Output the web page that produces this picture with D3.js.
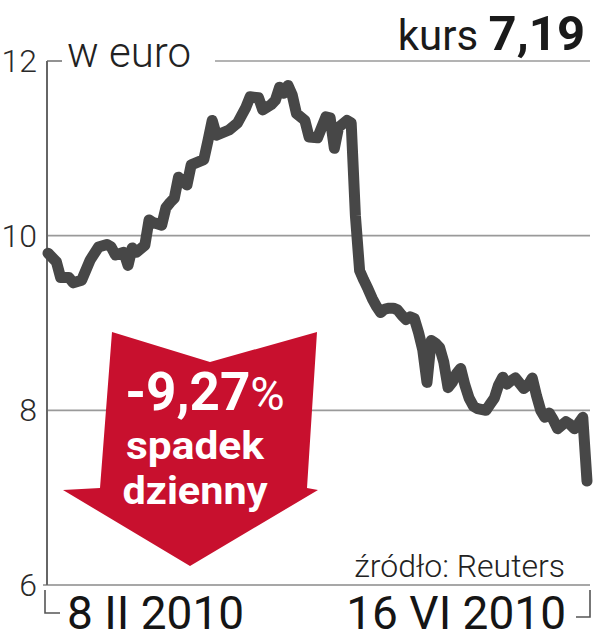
<!DOCTYPE html>
<html><head><meta charset="utf-8">
<script src="https://cdn.jsdelivr.net/npm/d3@7/dist/d3.min.js"></script>
<style>body{margin:0;background:#fff}svg{display:block}</style>
</head><body>
<svg id="c" width="593" height="640"></svg>
<script>
const dates = ["2010-02-08","2010-02-10","2010-02-11","2010-02-13","2010-02-14","2010-02-16","2010-02-18","2010-02-20","2010-02-22","2010-02-23","2010-02-24","2010-02-26","2010-02-27","2010-02-28","2010-03-01","2010-03-03","2010-03-04","2010-03-05","2010-03-07","2010-03-08","2010-03-09","2010-03-10","2010-03-11","2010-03-13","2010-03-14","2010-03-17","2010-03-18","2010-03-19","2010-03-20","2010-03-23","2010-03-25","2010-03-27","2010-03-28","2010-03-30","2010-03-31","2010-04-02","2010-04-03","2010-04-04","2010-04-05","2010-04-06","2010-04-07","2010-04-08","2010-04-10","2010-04-11","2010-04-13","2010-04-15","2010-04-16","2010-04-17","2010-04-18","2010-04-20","2010-04-21","2010-04-22","2010-04-23","2010-04-24","2010-04-25","2010-04-26","2010-04-27","2010-04-28","2010-04-29","2010-04-30","2010-05-01","2010-05-02","2010-05-03","2010-05-04","2010-05-05","2010-05-06","2010-05-07","2010-05-08","2010-05-09","2010-05-10","2010-05-11","2010-05-12","2010-05-13","2010-05-14","2010-05-15","2010-05-16","2010-05-17","2010-05-18","2010-05-19","2010-05-20","2010-05-21","2010-05-23","2010-05-24","2010-05-25","2010-05-26","2010-05-27","2010-05-28","2010-05-29","2010-05-30","2010-05-31","2010-06-01","2010-06-02","2010-06-03","2010-06-04","2010-06-05","2010-06-06","2010-06-07","2010-06-08","2010-06-09","2010-06-10","2010-06-11","2010-06-12","2010-06-13","2010-06-14","2010-06-15","2010-06-16"];
const values = [9.80,9.70,9.52,9.52,9.46,9.49,9.72,9.87,9.90,9.87,9.78,9.81,9.66,9.86,9.81,9.89,10.18,10.15,10.12,10.32,10.38,10.43,10.67,10.58,10.81,10.87,11.09,11.32,11.15,11.21,11.29,11.47,11.59,11.58,11.44,11.50,11.55,11.70,11.63,11.72,11.61,11.40,11.32,11.13,11.12,11.36,11.35,11.00,11.24,11.32,11.29,10.23,9.60,9.49,9.39,9.28,9.19,9.12,9.16,9.17,9.17,9.15,9.09,9.04,9.07,9.05,8.89,8.69,8.32,8.80,8.77,8.72,8.55,8.26,8.32,8.42,8.48,8.29,8.14,8.05,8.02,8.00,8.07,8.14,8.29,8.38,8.30,8.34,8.37,8.31,8.25,8.29,8.37,8.17,8.00,7.92,7.97,7.89,7.79,7.83,7.87,7.84,7.79,7.85,7.92,7.19];
const yTicks = [6, 8, 10, 12];
const xLabels = ["8 II 2010", "16 VI 2010"];
const unitLabel = "w euro";
const priceLabel = "kurs";
const priceValue = "7,19";
const changeValue = "-9,27";
const changeLines = ["spadek", "dzienny"];
const sourceLabel = "źródło: Reuters";

const svg = d3.select("#c");
const parse = d3.timeParse("%Y-%m-%d");
const data = dates.map((d, i) => ({date: parse(d), value: values[i]}));

const x = d3.scaleTime().domain(d3.extent(data, d => d.date)).range([48, 587]);
const y = d3.scaleLinear().domain([6, 12]).range([585, 61]);
const font = "Roboto, 'Liberation Sans', sans-serif";

// gridlines
const grid = svg.append("g");
yTicks.forEach(t => {
  let x1 = 47, x2 = 590;
  if (t === 12) x1 = 215;
  if (t === 6) x1 = 43;
  grid.append("line").attr("x1", x1).attr("x2", x2).attr("y1", y(t)).attr("y2", y(t))
    .attr("stroke", t === 6 ? "#8a8a8a" : "#9a9a9a").attr("stroke-width", 1.6);
});
grid.append("line").attr("x1", 47).attr("x2", 62).attr("y1", y(12)).attr("y2", y(12))
  .attr("stroke", "#777").attr("stroke-width", 1.6);
grid.append("line").attr("x1", 47).attr("x2", 47).attr("y1", y(12)).attr("y2", y(6))
  .attr("stroke", "#666").attr("stroke-width", 2);

// y tick labels
svg.append("g").selectAll("text").data(yTicks).join("text")
  .attr("x", 37).attr("y", d => y(d) + 11)
  .attr("text-anchor", "end")
  .attr("font-family", font).attr("font-weight", 300)
  .attr("font-size", 32).attr("fill", "#2a2a2a")
  .text(d => d);

// unit label
svg.append("text").attr("x", 67).attr("y", 67)
  .attr("font-family", font).attr("font-weight", 300)
  .attr("font-size", 42).attr("fill", "#222").text(unitLabel);

// kurs label
const kt = svg.append("text").attr("x", 585).attr("y", 50).attr("text-anchor", "end")
  .attr("font-family", font).attr("fill", "#1a1a1a");
kt.append("tspan").attr("font-weight", 400).attr("font-size", 42).text(priceLabel + " ");
kt.append("tspan").attr("font-weight", 700).attr("font-size", 49).text(priceValue);

// arrow
const arrowPts = [[112,332],[210,362],[317,332],[307,488],[318,490],[190,566],[63,490],[100,488]];
svg.append("polygon").attr("points", arrowPts.map(p => p.join(",")).join(" "))
  .attr("fill", "#c8102e");

const at = svg.append("text").attr("x", 205).attr("y", 410).attr("text-anchor", "middle")
  .attr("font-family", font).attr("fill", "#fff");
at.append("tspan").attr("font-weight", 700).attr("font-size", 53).text(changeValue);
at.append("tspan").attr("font-weight", 400).attr("font-size", 47).text("%");

const lineWidths = [138, 145];
changeLines.forEach((t, i) => {
  svg.append("text").attr("x", 195).attr("y", 459 + i * 45).attr("text-anchor", "middle")
    .attr("font-family", font).attr("font-weight", 700).attr("font-size", 38)
    .attr("textLength", lineWidths[i]).attr("lengthAdjust", "spacingAndGlyphs")
    .attr("fill", "#fff").text(t);
});

// line
const line = d3.line().x(d => x(d.date)).y(d => y(d.value));
svg.append("path").datum(data).attr("d", line)
  .attr("fill", "none").attr("stroke", "#474747").attr("stroke-width", 11)
  .attr("stroke-linejoin", "round").attr("stroke-linecap", "round");

// source
svg.append("text").attr("x", 565).attr("y", 577).attr("text-anchor", "end")
  .attr("font-family", font).attr("font-weight", 300).attr("font-size", 32)
  .attr("fill", "#222").text(sourceLabel);

// bottom brackets
svg.append("path").attr("d", "M45,590 V613 H60").attr("fill", "none")
  .attr("stroke", "#555").attr("stroke-width", 1.6);
svg.append("path").attr("d", "M576,617 H590 V590").attr("fill", "none")
  .attr("stroke", "#555").attr("stroke-width", 1.6);

// x labels at the ends of the date domain
const xl = svg.append("g").attr("font-family", font).attr("font-size", 46)
  .attr("fill", "#151515").attr("font-weight", 400);
xl.append("text").attr("x", 67).attr("y", 629).attr("text-anchor", "start").text(xLabels[0]);
xl.append("text").attr("x", 566).attr("y", 629).attr("text-anchor", "end").text(xLabels[1]);
</script>
</body></html>
